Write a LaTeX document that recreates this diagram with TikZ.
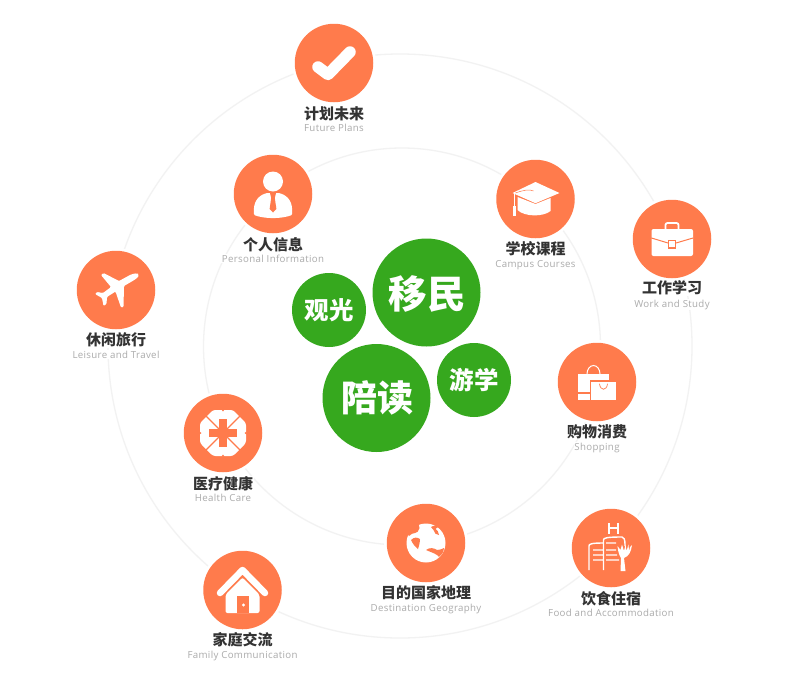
\documentclass[tikz,border=0pt]{standalone}
\usepackage{fontspec}
\newfontfamily\cjk{Noto Sans CJK SC}
\newfontfamily\latinlab[LetterSpace=3.5]{Open Sans}
\definecolor{org}{HTML}{FF7B4C}
\definecolor{grn}{HTML}{36A81E}
\definecolor{ringc}{HTML}{F2F2F2}
\definecolor{cnc}{HTML}{333333}
\definecolor{enc}{HTML}{ABABAB}
\tikzset{
 ring/.style={draw=ringc,line width=1.3pt,fill=none},
 bubble/.style={circle,fill=org,minimum size=78.5pt,inner sep=0pt,outer sep=0pt},
 halo/.style={fill=white,draw=none},
 gbub/.style={circle,fill=grn,inner sep=0pt,outer sep=0pt,text=white,font=\cjk\bfseries},
 cnlab/.style={font=\cjk\bfseries\fontsize{15}{16}\selectfont,text=cnc,fill=white,inner sep=0.5pt,anchor=center},
 enlab/.style={font=\latinlab\fontsize{9.7}{10}\selectfont,text=enc,fill=white,inner sep=0.5pt,anchor=base},
 wl/.style={draw=white,line cap=round,line join=round},
 ol/.style={draw=org,line cap=round,line join=round},
}
\newcommand{\bubitem}[7]{% name, x, y, cn dy, cn, en, icon
 \fill[halo] (#2,#3) circle[radius=42];
 \node[bubble] (#1) at (#2,#3) {};
 \begin{scope}[shift={(#2,#3)}] #7 \end{scope}
 \node[enlab] (#1en) at (#2,#3+68) {#6};
 \node[cnlab] (#1cn) at (#2,#3+#4) {#5};
}
\begin{document}
\begin{tikzpicture}[x=1pt,y=-1pt]
\useasboundingbox (0,0) rectangle (786,683);
\fill[white] (0,0) rectangle (786,683);
\coordinate (oc) at (400,346);
\coordinate (ic) at (402,346.5);
\draw[ring] (oc) circle[radius=292];
\draw[ring] (ic) circle[radius=198.5];
% green bubbles
\node[gbub,minimum size=108pt] (ym) at (426.5,292.5) {};
\node[font=\cjk\bfseries\fontsize{38.5}{39}\selectfont,text=white,inner sep=0pt] (ymt) at (427,293.5) {移民};
\node[gbub,minimum size=108pt] (pd) at (376.5,398) {};
\node[font=\cjk\bfseries\fontsize{36}{37}\selectfont,text=white,inner sep=0pt] (pdt) at (377,398) {陪读};
\node[gbub,minimum size=74pt,font=\cjk\bfseries\fontsize{24.5}{25}\selectfont] (gg) at (329,310) {观光};
\node[gbub,minimum size=74pt,font=\cjk\bfseries\fontsize{24.5}{25}\selectfont] (yx) at (474,380) {游学};
% check
\bubitem{plan}{334}{63}{51}{计划未来}{Future Plans}{
 \draw[wl,line width=11.5pt] (-16,4)--(-6,11.5)--(16,-11);
}
% person
\bubitem{person}{273}{194}{51}{个人信息}{Personal Information}{
 \fill[white] (0,-12.5) circle[radius=10];
 \fill[white,rounded corners=1pt] (-19,21) .. controls (-20,9) and (-16,2) .. (-6,-1) -- (6,-1) .. controls (16,2) and (20,9) .. (19,21) .. controls (8,25) and (-8,25) .. (-19,21) -- cycle;
 \fill[org] (-3,-1)--(3,-1)--(1.8,4)--(3.4,15)--(0,18.5)--(-3.4,15)--(-1.8,4)--cycle;
}
% plane
\bubitem{leisure}{116}{290}{50}{休闲旅行}{Leisure and Travel}{
 \fill[white,rounded corners=1pt] (22,-15.5) .. controls (23,-13) and (20,-11) .. (14,-7.5) -- (8,-4) -- (7.5,17) -- (5,17.5) -- (-0.5,1.5) -- (-9,7) -- (-9.5,14) -- (-12.5,16) -- (-14,8) -- (-21,4) -- (-19,2) -- (-13,3) -- (-5,-3) -- (-15,-15) -- (-12.5,-17) -- (3,-9) -- (14,-15) .. controls (18,-16.5) and (21,-17) .. (22,-15.5) -- cycle;
}
% cap
\bubitem{campus}{535.5}{199}{49.5}{学校课程}{Campus Courses}{
 \fill[white] (-18,-2) -- (0,5) -- (15,-1) -- (15,12) .. controls (8,18) and (-11,18) .. (-18,11) -- cycle;
 \fill[white] (-23,-6) -- (0,-17) -- (24,-6) -- (0,4.2) -- cycle;
 \draw[ol,line width=.5pt] (-20,-6) .. controls (-12,-9) and (-6,-10) .. (-2,-8);
 \draw[wl,line width=.9pt] (-21.5,-5.5) -- (-21.5,9);
 \fill[white] (-23,7) rectangle (-20,17);
}
% case
\bubitem{work}{672}{239}{49}{工作学习}{Work and Study}{
 \draw[draw=white,line width=1.8pt,rounded corners=2pt] (-6.5,-10) -- (-6.5,-16) -- (6.5,-16) -- (6.5,-10);
 \fill[white,rounded corners=2pt] (-20.5,-10) rectangle (21,17);
 \draw[ol,line width=1pt] (-20.5,-1) -- (-4,4);
 \draw[ol,line width=1pt] (21,-1) -- (4,4);
 \draw[draw=org,fill=white,line width=1.2pt] (-3.5,1.5) rectangle (3.5,9);
}
% bags
\bubitem{shop}{597}{382}{49.7}{购物消费}{Shopping}{
 \draw[draw=white,line width=1pt] (-10,-8) arc[start angle=180,end angle=360,x radius=6.5,y radius=8.5];
 \fill[white] (-19,-8) rectangle (12,10);
 \fill[white] (-19,12) rectangle (-6.5,18);
 \draw[draw=org,fill=white,line width=1.2pt] (-6.5,-1) rectangle (20,18.5);
 \draw[ol,line width=.7pt] (2.5,2) .. controls (3.5,9) and (9.5,9) .. (10.5,2);
}
% med
\bubitem{health}{223}{433}{51}{医疗健康}{Health Care}{
 \fill[white,rounded corners=2.5pt] (-10,-23) -- (10,-23) -- (23,-10) -- (23,10) -- (10,23) -- (-10,23) -- (-23,10) -- (-23,-10) -- cycle;
 \fill[org] (-1.5,-23.5) -- (1.5,-23.5) -- (0,-21.5) -- cycle (-1.5,23.5) -- (1.5,23.5) -- (0,21.5) -- cycle (-23.5,-1.5) -- (-23.5,1.5) -- (-21.5,0) -- cycle (23.5,-1.5) -- (23.5,1.5) -- (21.5,0) -- cycle;
 \draw[draw=org,line width=8.5pt] (-14,0) -- (14,0) (0,-14) -- (0,14);
 \draw[draw=org,line width=1.1pt] (-17,-17) -- (17,17) (-17,17) -- (17,-17);
}
% globe
\bubitem{dest}{426}{543}{50}{目的国家地理}{Destination Geography}{
 \fill[white] (0,0) circle[radius=19.5];
 \fill[org] (-21,-12) -- (-8,-21) -- (-6.5,-15) .. controls (-7,-12) and (-9,-10) .. (-11,-10) .. controls (-13,-10) and (-15,-9) .. (-17,-7) -- cycle;
 \fill[org] (-15,-3) .. controls (-12,-6) and (-9,-6) .. (-6,-4) .. controls (-6,-1) and (-7,3) .. (-8,6) .. controls (-11,4) and (-13,1) .. (-15,-3) -- cycle;
 \fill[org] (5,-16) .. controls (8,-18) and (11,-18) .. (13,-16) .. controls (11,-15.5) and (10,-15) .. (9.5,-14) .. controls (11,-13) and (13,-11) .. (13,-8) .. controls (10,-8) and (8,-10) .. (7.5,-13) -- cycle;
 \fill[org] (0,7) .. controls (4,4) and (8,5) .. (11,7) .. controls (14,7) and (16,6) .. (18,5) .. controls (17.5,9) and (16,12) .. (13,14) .. controls (11,11) and (7,10) .. (0,7) -- cycle;
}
% house
\bubitem{family}{242.5}{590}{50}{家庭交流}{Family Communication}{
 \draw[wl,line width=6.5pt] (-22.5,3) -- (0,-20) -- (22.5,3);
 \fill[white,rounded corners=2pt] (-17,4.5) -- (0,-12.5) -- (17,4.5) -- (17,23) -- (-17,23) -- cycle;
 \fill[org] (-6,6) -- (6,6) -- (6,23) -- (-6,23) -- cycle;
 \fill[white] (1,15) circle[radius=1.6];
}
% hotel
\bubitem{food}{611}{548}{51}{饮食住宿}{Food and Accommodation}{
 \draw[draw=white,line width=1.8pt] (-1.7,-25) -- (-1.7,-14.5) (6.7,-25) -- (6.7,-14.5) (-1.7,-20) -- (6.7,-20);
 \draw[draw=white,line width=1.4pt] (-22,22) -- (-22,-2) .. controls (-22,-4) and (-20,-5) .. (-7.5,-5)
   (-7.5,22) -- (-7.5,-8) .. controls (-7.5,-10) and (-5,-11) .. (11,-11) .. controls (13,-11) and (14,-9) .. (14,-2)
   (-18,2) -- (-7.5,2) (-18,7) -- (-7.5,7) (-18,12) -- (-7.5,12)
   (-5,-5) -- (5,-5) (-5,2) -- (5,2) (-5,7) -- (6,7) (-5,12) -- (8,12);
 \fill[white] (10,10) -- (9.5,23) -- (14.5,23) -- (13,10) .. controls (18,8) and (20,4) .. (21,-3) -- (19,-1) -- (18,3) -- (17.5,-3.5) -- (15.5,3) -- (14.5,-3.5) -- (13,3) -- (11,-3.5) -- (9.5,2) -- (6.5,-2) .. controls (7,3) and (8,7) .. (10,10) -- cycle;
}
\end{tikzpicture}
\end{document}
